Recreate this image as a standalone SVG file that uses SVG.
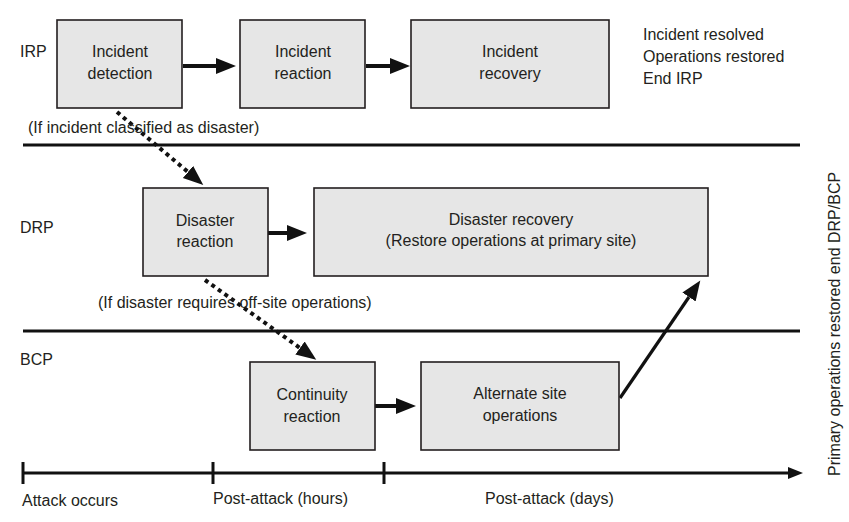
<svg xmlns="http://www.w3.org/2000/svg" width="849" height="522" viewBox="0 0 849 522">
<defs>
<style>
text{font-family:"Liberation Sans",Arial,sans-serif;font-size:16px;fill:#231f20}
.c{text-anchor:middle}
.box{fill:#e6e6e6;stroke:#231f20;stroke-width:1.6}
.sep{stroke:#111;stroke-width:3;fill:none}
.arr{stroke:#111;stroke-width:4;fill:none}
.dot{stroke:#111;stroke-width:4;fill:none;stroke-dasharray:4 4}
.diag{stroke:#111;stroke-width:3.2;fill:none}
</style>
<marker id="ah" markerUnits="userSpaceOnUse" markerWidth="22" markerHeight="18" refX="0" refY="8" orient="auto"><path d="M0,0 L20,8 L0,16 z" fill="#111"/></marker>
<marker id="ahs" markerUnits="userSpaceOnUse" markerWidth="18" markerHeight="14" refX="0" refY="6" orient="auto"><path d="M0,0 L15,6 L0,12 z" fill="#111"/></marker>
</defs>
<rect width="849" height="522" fill="#fff"/>

<g id="lanes">
<line class="sep" x1="23" y1="145" x2="800" y2="145"/>
<line class="sep" x1="23" y1="331" x2="800" y2="331"/>
<text x="20" y="57">IRP</text>
<text x="20" y="233">DRP</text>
<text x="20" y="365">BCP</text>
</g>

<g id="timeline">
<line class="sep" x1="23" y1="473" x2="788" y2="473" marker-end="url(#ahs)"/>
<line class="sep" x1="23" y1="462" x2="23" y2="484"/>
<line class="sep" x1="213" y1="462" x2="213" y2="484"/>
<line class="sep" x1="384" y1="462" x2="384" y2="484"/>
<text x="22" y="506">Attack occurs</text>
<text x="213" y="504">Post-attack (hours)</text>
<text x="485" y="504">Post-attack (days)</text>
</g>

<g id="connectors">
<line class="arr" x1="183" y1="66" x2="216" y2="66" marker-end="url(#ah)"/>
<line class="arr" x1="366" y1="66" x2="390" y2="66" marker-end="url(#ah)"/>
<line class="arr" x1="268" y1="233" x2="287" y2="233" marker-end="url(#ah)"/>
<line class="arr" x1="375" y1="406" x2="396" y2="406" marker-end="url(#ah)"/>
<line class="dot" x1="117" y1="112" x2="188" y2="172" marker-end="url(#ah)"/>
<line class="dot" x1="205" y1="280" x2="300" y2="348" marker-end="url(#ah)"/>
<line class="diag" x1="620" y1="398" x2="689" y2="297" marker-end="url(#ah)"/>
</g>

<g id="incident-detection"><rect class="box" x="57" y="20" width="125" height="88"/><text class="c" x="120" y="57">Incident</text><text class="c" x="120" y="79">detection</text></g>
<g id="incident-reaction"><rect class="box" x="240" y="20" width="125" height="88"/><text class="c" x="303" y="57">Incident</text><text class="c" x="303" y="79">reaction</text></g>
<g id="incident-recovery"><rect class="box" x="411" y="20" width="198" height="88"/><text class="c" x="510" y="57">Incident</text><text class="c" x="510" y="79">recovery</text></g>
<g id="irp-end"><text x="643" y="40">Incident resolved</text><text x="643" y="62">Operations restored</text><text x="643" y="84">End IRP</text></g>
<g id="note-disaster"><text x="28" y="133">(If incident classified as disaster)</text></g>

<g id="disaster-reaction"><rect class="box" x="143" y="188" width="125" height="88"/><text class="c" x="205" y="226">Disaster</text><text class="c" x="205" y="247">reaction</text></g>
<g id="disaster-recovery"><rect class="box" x="314" y="188" width="394" height="88"/><text class="c" x="511" y="225">Disaster recovery</text><text class="c" x="511" y="246">(Restore operations at primary site)</text></g>
<g id="note-offsite"><text x="98" y="308">(If disaster requires off-site operations)</text></g>

<g id="continuity-reaction"><rect class="box" x="250" y="362" width="125" height="88"/><text class="c" x="312" y="400">Continuity</text><text class="c" x="312" y="422">reaction</text></g>
<g id="alternate-site"><rect class="box" x="421" y="362" width="198" height="88"/><text class="c" x="520" y="399">Alternate site</text><text class="c" x="520" y="421">operations</text></g>

<g id="end-label"><text transform="translate(840,476) rotate(-90)">Primary operations restored end DRP/BCP</text></g>
</svg>
